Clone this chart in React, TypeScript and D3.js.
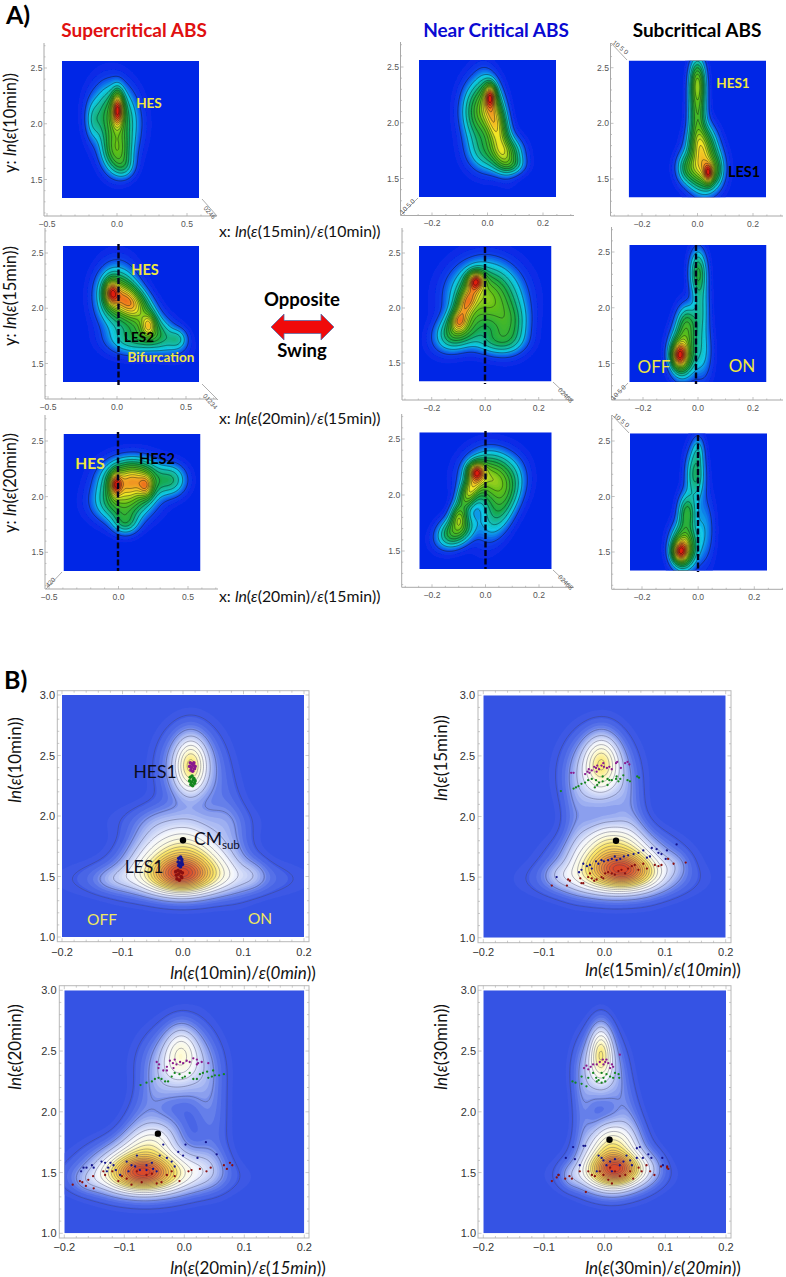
import React, { useMemo } from "react";
import * as d3 from "d3";

// ---------- density components: [x, y, sx, sy, rho, weight]
type Blob = number[];
const superRow1: Blob[] = [[0.005,2.13,0.028,0.1,0,0.66],[-0.015,2.05,0.095,0.18,-0.1,0.4],[0.0,1.75,0.065,0.12,0,0.36],[-0.17,2.03,0.035,0.11,0,0.1],[0.05,1.62,0.05,0.07,0,0.12]];
const superRow2: Blob[] = [[-0.04,2.14,0.035,0.075,0,0.55],[0.23,1.85,0.035,0.07,0,0.36],[0.1,2.05,0.09,0.11,-0.4,0.62],[0.0,2.1,0.09,0.17,0,0.4],[0.25,1.8,0.12,0.12,-0.5,0.3],[0.44,1.72,0.045,0.06,0,0.14],[0.12,1.72,0.12,0.09,0,0.22]];
const superRow3: Blob[] = [[-0.02,2.11,0.03,0.07,0,0.48],[0.2,2.09,0.035,0.07,0,0.3],[0.1,2.15,0.12,0.11,0,0.68],[0.03,1.95,0.12,0.11,0,0.36],[0.38,2.15,0.07,0.09,0,0.2],[0.05,1.77,0.06,0.07,0,0.2]];
const nearRow1: Blob[] = [[0.01,2.24,0.014,0.07,0,0.44],[0.03,2.0,0.03,0.2,-0.5,0.46],[-0.025,2.1,0.04,0.17,0,0.34],[0.07,1.72,0.035,0.09,0,0.26],[0.0,1.75,0.045,0.12,0,0.18],[0.085,1.62,0.032,0.055,0,0.11]];
const nearRow2: Blob[] = [[-0.035,2.25,0.021,0.055,0,0.52],[-0.07,2.05,0.03,0.13,0.6,0.46],[-0.1,1.88,0.02,0.06,0,0.24],[0.0,2.1,0.075,0.18,0,0.48],[-0.1,1.8,0.05,0.11,0.3,0.36],[0.085,1.85,0.045,0.14,0,0.25],[0.04,1.7,0.06,0.08,0,0.16]];
const nearRow3: Blob[] = [[-0.035,2.21,0.021,0.055,0,0.52],[-0.06,2.03,0.03,0.12,0.6,0.44],[-0.1,1.8,0.02,0.07,0,0.28],[0.02,2.15,0.058,0.14,0,0.48],[-0.11,1.68,0.042,0.09,0.3,0.38],[0.055,1.9,0.045,0.18,0.5,0.24]];
const subRow1: Blob[] = [[0.04,1.55,0.012,0.06,0,0.42],[0.025,1.6,0.036,0.13,0,0.55],[0.015,1.82,0.03,0.11,0,0.36],[0.0,2.38,0.018,0.13,0,0.34],[0.0,2.1,0.02,0.2,0,0.34],[-0.035,1.6,0.026,0.09,0,0.2],[0.07,1.58,0.015,0.08,0,0.08]];
const subRow2: Blob[] = [[-0.07,1.57,0.019,0.075,0,0.52],[-0.055,1.6,0.028,0.13,0,0.54],[-0.04,1.85,0.024,0.11,0,0.3],[0.0,2.32,0.02,0.13,0,0.28],[0.01,2.0,0.02,0.18,0,0.16],[0.015,1.6,0.024,0.17,0,0.12]];
const subRow3: Blob[] = [[-0.065,1.5,0.019,0.065,0,0.52],[-0.05,1.55,0.028,0.12,0,0.54],[-0.04,1.85,0.02,0.11,0,0.3],[-0.01,2.2,0.022,0.15,0,0.24],[0.0,2.42,0.015,0.09,0,0.09],[0.02,1.7,0.024,0.2,0,0.1]];
const pcaT10: Blob[] = [[-0.003,1.52,0.03,0.09,0,0.5],[0,1.56,0.05,0.13,0,0.42],[0,1.48,0.09,0.09,0,0.15],[-0.115,1.48,0.022,0.065,0.1,0.04],[0.115,1.52,0.016,0.08,0,0.045],[0,1.74,0.04,0.13,0,0.26],[0,1.95,0.06,0.1,0,0.07],[0.013,2.42,0.016,0.14,0,0.3],[0.012,2.4,0.03,0.2,0,0.17],[-0.065,1.75,0.028,0.2,0.55,0.045],[0.075,1.9,0.022,0.3,-0.3,0.05]];
const pcaT15: Blob[] = [[0.03,1.56,0.03,0.08,-0.1,0.48],[0.02,1.6,0.05,0.14,0,0.42],[0.01,1.48,0.065,0.09,0,0.15],[0.115,1.6,0.016,0.07,0,0.04],[-0.075,1.52,0.016,0.065,0,0.04],[0.01,1.78,0.032,0.13,0,0.22],[-0.005,2.45,0.018,0.14,0,0.27],[-0.01,2.35,0.033,0.2,0,0.17],[-0.045,2.0,0.016,0.3,0.1,0.04],[0.04,2.05,0.02,0.3,-0.5,0.05]];
const pcaT20: Blob[] = [[-0.07,1.5,0.03,0.08,0,0.48],[-0.065,1.53,0.05,0.13,0,0.42],[-0.06,1.46,0.07,0.09,0,0.15],[-0.16,1.43,0.016,0.06,0,0.04],[0.035,1.55,0.022,0.11,0,0.07],[-0.055,1.75,0.03,0.13,0.3,0.22],[-0.005,2.5,0.018,0.14,0,0.18],[-0.01,2.38,0.035,0.18,0,0.17],[-0.06,2.05,0.03,0.25,0.7,0.05],[0.04,2.1,0.02,0.33,-0.3,0.06]];
const pcaT30: Blob[] = [[0.02,1.53,0.024,0.075,0,0.48],[0.012,1.56,0.03,0.13,0,0.42],[0.01,1.48,0.045,0.09,0,0.15],[-0.055,1.47,0.012,0.07,0,0.045],[0.075,1.55,0.016,0.09,0,0.05],[0.012,1.76,0.024,0.12,0,0.24],[-0.006,2.5,0.012,0.14,0,0.3],[-0.008,2.35,0.022,0.17,0,0.17],[-0.035,2.05,0.012,0.28,0,0.05],[0.035,2.0,0.02,0.28,-0.6,0.06]];

// ---------- trajectory end points per panel, [x, y]
const t10Purple = [[0.012,2.44],[0.015,2.43],[0.018,2.44],[0.011,2.41],[0.014,2.40],[0.017,2.42],[0.02,2.41],[0.013,2.38],[0.016,2.37],[0.019,2.39]];
const t10Green = [[0.012,2.32],[0.015,2.33],[0.018,2.31],[0.011,2.29],[0.014,2.28],[0.017,2.3],[0.02,2.29],[0.013,2.26],[0.016,2.25],[0.019,2.27]];
const t10Blue = [[-0.007,1.65],[-0.004,1.66],[-0.002,1.64],[-0.008,1.62],[-0.005,1.61],[-0.002,1.62],[-0.007,1.59],[-0.004,1.58],[-0.001,1.6]];
const t10Red = [[-0.012,1.54],[-0.008,1.55],[-0.004,1.54],[-0.001,1.53],[-0.011,1.51],[-0.007,1.52],[-0.003,1.5],[-0.01,1.48],[-0.006,1.47],[-0.002,1.49]];

const t15Purple = [[-0.055,2.36],[-0.051,2.36],[-0.032,2.35],[-0.028,2.37],[-0.026,2.39],[-0.021,2.38],[-0.017,2.41],[-0.014,2.4],[-0.012,2.42],[-0.009,2.39],[-0.005,2.42],[-0.002,2.44],[-0.001,2.41],[0.004,2.4],[0.008,2.41],[0.012,2.39],[0.019,2.44],[0.021,2.45],[0.027,2.4],[0.034,2.44],[0.038,2.45],[0.041,2.43],[-0.025,2.36],[-0.013,2.37]];
const t15Green = [[-0.072,2.21],[-0.051,2.23],[-0.047,2.24],[-0.043,2.25],[-0.038,2.27],[-0.032,2.28],[-0.027,2.3],[-0.021,2.31],[-0.014,2.3],[-0.012,2.26],[-0.016,2.24],[-0.009,2.28],[-0.003,2.29],[0.005,2.31],[0.008,2.3],[0.005,2.26],[0.012,2.3],[0.019,2.31],[0.023,2.29],[0.026,2.31],[0.031,2.34],[0.038,2.3],[0.042,2.29],[0.054,2.33],[0.057,2.32],[0.02,2.33],[-0.003,2.33]];
const t15Blue = [[-0.079,1.5],[-0.042,1.54],[-0.038,1.56],[-0.035,1.61],[-0.029,1.59],[-0.024,1.6],[-0.021,1.57],[-0.014,1.63],[-0.01,1.61],[-0.005,1.64],[-0.001,1.63],[0.006,1.64],[0.012,1.65],[0.017,1.67],[0.02,1.64],[0.026,1.65],[0.032,1.67],[0.039,1.68],[0.048,1.69],[0.056,1.7],[0.064,1.72],[0.07,1.66],[0.075,1.67],[0.078,1.74],[0.086,1.73],[0.089,1.7],[0.094,1.69],[0.103,1.72],[0.101,1.65],[0.119,1.77]];
const t15Red = [[-0.087,1.43],[-0.062,1.43],[-0.06,1.48],[-0.057,1.47],[-0.04,1.49],[-0.038,1.45],[-0.035,1.45],[-0.027,1.5],[-0.021,1.49],[-0.017,1.47],[-0.013,1.48],[-0.005,1.5],[0.001,1.53],[0.006,1.54],[0.012,1.53],[0.017,1.52],[0.023,1.55],[0.028,1.56],[0.034,1.53],[0.039,1.57],[0.045,1.59],[0.05,1.6],[0.056,1.56],[0.064,1.61],[0.07,1.57],[0.083,1.6],[0.089,1.59],[0.094,1.6],[0.105,1.65],[0.114,1.61],[0.134,1.62],[-0.002,1.49],[-0.024,1.53]];

const t20Purple = [[-0.046,2.41],[-0.042,2.39],[-0.043,2.36],[-0.035,2.34],[-0.029,2.37],[-0.024,2.42],[-0.019,2.4],[-0.016,2.43],[-0.013,2.39],[-0.007,2.41],[-0.002,2.4],[0.004,2.42],[0.009,2.41],[0.015,2.44],[0.021,2.43],[0.023,2.4],[0.029,2.41],[0.021,2.39],[0.04,2.4],[-0.029,2.34],[-0.018,2.36]];
const t20Green = [[-0.073,2.22],[-0.063,2.24],[-0.054,2.25],[-0.049,2.27],[-0.043,2.28],[-0.038,2.27],[-0.032,2.25],[-0.027,2.25],[-0.021,2.29],[-0.016,2.32],[-0.008,2.31],[-0.003,2.28],[0.001,2.29],[0.009,2.32],[0.015,2.27],[0.021,2.27],[0.026,2.31],[0.031,2.32],[0.038,2.33],[0.04,2.28],[0.046,2.29],[0.051,2.3],[0.058,2.3],[0.066,2.31],[0.048,2.34]];
const t20Blue = [[-0.172,1.51],[-0.168,1.54],[-0.163,1.54],[-0.154,1.56],[-0.151,1.54],[-0.138,1.59],[-0.132,1.58],[-0.127,1.54],[-0.123,1.58],[-0.118,1.56],[-0.114,1.52],[-0.129,1.51],[-0.096,1.59],[-0.088,1.56],[-0.079,1.64],[-0.074,1.52],[-0.063,1.56],[-0.054,1.58],[-0.046,1.51],[-0.041,1.64],[-0.035,1.73],[-0.029,1.62],[-0.021,1.59],[-0.016,1.55],[-0.01,1.67],[-0.002,1.64],[0.002,1.73],[0.022,1.62],[0.036,1.75],[0.054,1.65],[-0.107,1.48],[-0.093,1.51],[-0.082,1.55],[-0.063,1.52],[-0.052,1.53]];
const t20Red = [[-0.186,1.4],[-0.174,1.43],[-0.17,1.42],[-0.164,1.39],[-0.16,1.44],[-0.151,1.37],[-0.152,1.47],[-0.135,1.51],[-0.132,1.48],[-0.12,1.51],[-0.104,1.47],[-0.11,1.43],[-0.096,1.45],[-0.088,1.4],[-0.079,1.51],[-0.071,1.42],[-0.063,1.48],[-0.054,1.49],[-0.046,1.41],[-0.038,1.42],[-0.029,1.48],[-0.021,1.51],[-0.008,1.43],[-0.016,1.47],[0.007,1.51],[0.012,1.52],[0.026,1.53],[0.037,1.51],[0.044,1.54],[0.066,1.56],[0.071,1.53],[0.076,1.58],[0.08,1.56]];

const t30Purple = [[-0.034,2.36],[-0.03,2.38],[-0.023,2.37],[-0.019,2.39],[-0.013,2.39],[-0.008,2.41],[-0.003,2.43],[0.001,2.41],[0.003,2.43],[-0.002,2.39],[0.006,2.4],[0.012,2.39],[0.014,2.37],[0.009,2.36],[0.025,2.47],[-0.027,2.35]];
const t30Green = [[-0.053,2.25],[-0.048,2.24],[-0.038,2.29],[-0.038,2.23],[-0.03,2.21],[-0.027,2.28],[-0.019,2.32],[-0.014,2.28],[-0.01,2.26],[-0.005,2.24],[-0.002,2.28],[0.001,2.25],[0.003,2.31],[0.009,2.29],[0.014,2.28],[0.017,2.32],[0.023,2.31],[0.024,2.28],[-0.005,2.32],[-0.013,2.25]];
const t30Blue = [[-0.052,1.71],[-0.035,1.72],[-0.032,1.72],[-0.064,1.62],[-0.076,1.48],[-0.041,1.56],[-0.049,1.61],[-0.01,1.64],[-0.005,1.62],[-0.002,1.6],[0.003,1.56],[0.012,1.51],[0.017,1.61],[0.025,1.56],[0.031,1.59],[0.036,1.64],[0.042,1.6],[0.045,1.56],[0.053,1.62],[0.058,1.71],[0.063,1.62],[0.072,1.65],[0.077,1.62],[0.095,1.62],[0.096,1.56],[0.053,1.7],[-0.013,1.51],[0.009,1.59]];
const t30Red = [[-0.087,1.43],[-0.079,1.46],[-0.076,1.48],[-0.065,1.45],[-0.058,1.47],[-0.054,1.45],[-0.041,1.51],[-0.031,1.34],[-0.027,1.51],[-0.021,1.48],[-0.016,1.47],[-0.008,1.51],[-0.002,1.48],[0.006,1.44],[0.012,1.41],[0.017,1.51],[0.025,1.47],[0.034,1.48],[0.042,1.51],[0.047,1.45],[0.056,1.54],[0.061,1.51],[0.069,1.56],[0.075,1.51],[0.082,1.48],[0.093,1.55],[0.103,1.55],[0.105,1.53],[0.103,1.54],[0.009,1.54]];

const centreOfMass = [[0,1.8],[0.019,1.8],[-0.044,1.82],[0.008,1.77]];

// ---------- colours
const rainbowStops = [0,0.04,0.12,0.27,0.46,0.62,0.78,0.94];
const rainbowColors = ["#0626e6","#0a40ea","#12c8e6","#14a84a","#60c018","#f4e828","#f08420","#e01c10"];
const paleStops = [0,0.04,0.1,0.2,0.3,0.42,0.6,0.78,0.95];
const paleColors = ["#3553e4","#5873e8","#a8b8f2","#f4f6fd","#fefcde","#fbe76a","#f4b845","#e67a3a","#d8482c"];
const pointColors = ["#8a1a8e","#14861e","#14148c","#8a1010"];

// ---------- scaffolding of the panels
const pxA = (img: number[], x: number[], y: number[], axis: number[], blobs: Blob[]) => ({ img, x, y, axis, blobs });
const panelsA = [
  pxA([62,61,199,198],[-0.5,47,0.5,187],[1.5,179.5,2.5,68],[44,216,217,43],superRow1),
  pxA([63,246,199,382],[-0.5,48,0.5,186],[1.5,363.5,2.5,253],[45,399,217,228],superRow2),
  pxA([63.5,434,200.5,571],[-0.5,49,0.5,188],[1.5,552.3,2.5,441],[45,589,218,415],superRow3),
  pxA([419,60,556,197],[-0.2,432,0.2,543],[1.5,178.5,2.5,67],[400.5,215.5,574,42],nearRow1),
  pxA([419,246,551.5,381.5],[-0.2,431.7,0.2,538.7],[1.5,363,2.5,253],[402,400,574,228],nearRow2),
  pxA([419.3,432.3,551.7,569],[-0.2,432,0.2,539],[1.5,551,2.5,439],[401.7,587.3,574,414],nearRow3),
  pxA([628.7,60.5,766,197.5],[-0.2,642,0.2,753],[1.5,179,2.5,67.7],[610.5,216,783,43],subRow1),
  pxA([629.3,245,766.5,382],[-0.2,643,0.2,753],[1.5,363.5,2.5,252],[611.5,400,783,227],subRow2),
  pxA([630,433.3,767,570.7],[-0.2,642,0.2,754.3],[1.5,552,2.5,441],[611.7,589.3,783,415],subRow3),
];
const panelsB = [
  { img:[62,695,304,937], frame:[57.3,690.7,309,941.7], tickRight:55, labelY:952, blobs:pcaT10, pts:[t10Purple,t10Green,t10Blue,t10Red], r:1.8, cm:centreOfMass[0] },
  { img:[483.3,695.3,725.7,937.7], frame:[478,690.7,731,942.7], tickRight:475, labelY:952, blobs:pcaT15, pts:[t15Purple,t15Green,t15Blue,t15Red], r:1.15, cm:centreOfMass[1] },
  { img:[64.3,990.3,304.3,1233.3], frame:[59.3,985.7,309,1238], tickRight:56.5, labelY:1247, blobs:pcaT20, pts:[t20Purple,t20Green,t20Blue,t20Red], r:1.15, cm:centreOfMass[2] },
  { img:[483.3,990.3,726,1233.3], frame:[478,985.7,731,1238], tickRight:476, labelY:1247, blobs:pcaT30, pts:[t30Purple,t30Green,t30Blue,t30Red], r:1.15, cm:centreOfMass[3] },
];

const dashes = [[118.5,244,385],[118,432,571],[485,247,384],[485.5,431,569],[696,245,384],[698,435,572]];
const SANS = "'Liberation Sans', Arial, sans-serif";
const CAL = "Lato, 'Open Sans', sans-serif";
const neg = (v: number) => (v < 0 ? "\u2212" : "") + Math.abs(v).toFixed(1);

function field(blobs: Blob[], xd: number[], yd: number[], n: number) {
  const vals = new Float64Array(n * n);
  let mx = 0;
  for (let j = 0; j < n; j++) {
    const y = yd[0] + ((j + 0.5) / n) * (yd[1] - yd[0]);
    for (let i = 0; i < n; i++) {
      const x = xd[0] + ((i + 0.5) / n) * (xd[1] - xd[0]);
      let s = 0;
      for (const [cx, cy, sx, sy, rho, w] of blobs) {
        const a = (x - cx) / sx, b = (y - cy) / sy;
        s += w * Math.exp(-(a * a - 2 * rho * a * b + b * b) / (2 * (1 - rho * rho)));
      }
      vals[j * n + i] = s;
      if (s > mx) mx = s;
    }
  }
  for (let k = 0; k < vals.length; k++) vals[k] /= mx;
  return vals;
}

function Density({ img, xs, ys, blobs, color, line, lineW, first, step, id }: any) {
  const n = 120;
  const { bands, lines } = useMemo(() => {
    const [x0, y0, x1, y1] = img;
    const vals = field(blobs, [xs.invert(x0), xs.invert(x1)], [ys.invert(y0), ys.invert(y1)], n);
    const levels = d3.range(0.008, 1.0, 0.014);
    const gen = d3.contours().size([n, n]);
    const proj = d3.geoTransform({ point(this: any, a: number, b: number) {
      this.stream.point(x0 + (a / n) * (x1 - x0), y0 + (b / n) * (y1 - y0));
    }});
    const path = d3.geoPath(proj);
    const bands = levels.map((t) => ({ t, d: path(gen.contour(vals as any, t) as any) || "" }));
    const lv = d3.range(first, 0.97, step);
    const lines = lv.map((t) => path(gen.contour(vals as any, t) as any) || "");
    return { bands, lines };
  }, []);
  return (
    <g clipPath={`url(#${id})`}>
      <clipPath id={id}><rect x={img[0]} y={img[1]} width={img[2]-img[0]} height={img[3]-img[1]} /></clipPath>
      <g filter="url(#soft)">
        <rect x={img[0]} y={img[1]} width={img[2]-img[0]} height={img[3]-img[1]} fill={color(0)} />
        {bands.map((b, i) => <path key={i} d={b.d} fill={color(b.t)} />)}
        {lines.map((d, i) => <path key={i} d={d} fill="none" stroke={line} strokeWidth={lineW} />)}
      </g>
    </g>
  );
}

const Eps = () => <tspan fontStyle="italic">ε</tspan>;

function PanelA({ p, idx }: any) {
  const xs = d3.scaleLinear().domain([p.x[0], p.x[2]]).range([p.x[1], p.x[3]]);
  const ys = d3.scaleLinear().domain([p.y[0], p.y[2]]).range([p.y[1], p.y[3]]);
  const color = d3.scaleLinear<string>().domain(rainbowStops).range(rainbowColors).clamp(true);
  const [ax, ay, ax2, ay2] = p.axis;
  const major = Math.abs(p.x[0]) === 0.5 ? 0.5 : 0.2;
  const minor = major === 0.5 ? 0.1 : 0.05;
  const xMin = xs.invert(ax), xMax = xs.invert(ax2);
  const yMin = ys.invert(ay), yMax = ys.invert(ay2);
  const xTicks = d3.range(Math.ceil(xMin / minor - 1e-6), Math.floor(xMax / minor + 1e-6) + 1).map((k) => k * minor);
  const yTicks = d3.range(Math.ceil(yMin / 0.1 - 1e-6), Math.floor(yMax / 0.1 + 1e-6) + 1).map((k) => k * 0.1);
  const isMaj = (v: number, m: number) => Math.abs(v / m - Math.round(v / m)) < 1e-6;
  return (
    <g>
      <line x1={ax} x2={ax2} y1={ay} y2={ay} stroke="#a8a8a8" />
      <line x1={ax} x2={ax} y1={ay} y2={ay2} stroke="#a8a8a8" />
      {xTicks.map((v, i) => <line key={i} x1={xs(v)} x2={xs(v)} y1={ay} y2={ay - (isMaj(v, major) ? 3 : 1.5)} stroke="#aaa" strokeWidth={0.7} />)}
      {yTicks.map((v, i) => <line key={i} x1={ax} x2={ax + (isMaj(v, 0.5) ? 3 : 1.5)} y1={ys(v)} y2={ys(v)} stroke="#aaa" strokeWidth={0.7} />)}
      {xTicks.filter((v) => isMaj(v, major)).map((v, i) => (
        <text key={i} x={xs(v)} y={ay + 10.5} fontSize={8.6} textAnchor="middle" fill="#555" fontFamily={SANS}>{neg(v)}</text>
      ))}
      {yTicks.filter((v) => isMaj(v, 0.5)).map((v, i) => (
        <text key={i} x={ax - 1.5} y={ys(v) + 3} fontSize={8.6} textAnchor="end" fill="#555" fontFamily={SANS}>{v.toFixed(1)}</text>
      ))}
      <Density img={p.img} xs={xs} ys={ys} blobs={p.blobs} color={color} line="rgba(10,20,20,0.8)" lineW={0.55} first={0.05} step={0.06} id={`ca${idx}`} />
    </g>
  );
}

function PanelB({ p, idx }: any) {
  const xs = d3.scaleLinear().domain([-0.2, 0.2]).range([p.img[0], p.img[2]]);
  const ys = d3.scaleLinear().domain([1, 3]).range([p.img[3], p.img[1]]);
  const color = d3.scaleLinear<string>().domain(paleStops).range(paleColors).clamp(true);
  const [fx0, fy0, fx1, fy1] = p.frame;
  const xTicks = d3.range(-20, 21, 2).map((k) => k / 100);
  const yTicks = d3.range(10, 31).map((k) => k / 10);
  return (
    <g>
      <rect x={fx0} y={fy0} width={fx1 - fx0} height={fy1 - fy0} fill="#fff" stroke="#b8b8b8" />
      {xTicks.map((v, i) => {
        const m = i % 5 === 0;
        return <g key={i} stroke="#aaa" strokeWidth={0.6}>
          <line x1={xs(v)} x2={xs(v)} y1={fy1} y2={fy1 - (m ? 3.5 : 2)} />
          <line x1={xs(v)} x2={xs(v)} y1={fy0} y2={fy0 + (m ? 3.5 : 2)} />
        </g>;
      })}
      {yTicks.map((v, i) => {
        const m = i % 5 === 0;
        return <g key={i} stroke="#aaa" strokeWidth={0.6}>
          <line x1={fx0} x2={fx0 + (m ? 3.5 : 2)} y1={ys(v)} y2={ys(v)} />
          <line x1={fx1} x2={fx1 - (m ? 3.5 : 2)} y1={ys(v)} y2={ys(v)} />
        </g>;
      })}
      <Density img={p.img} xs={xs} ys={ys} blobs={p.blobs} color={color} line="rgba(60,65,95,0.5)" lineW={0.75} first={0.018} step={0.055} id={`cb${idx}`} />
      {[-0.2,-0.1,0,0.1,0.2].map((v) => <text key={v} x={xs(v)} y={p.labelY + 4} fontSize={11} textAnchor="middle" fill="#333" fontFamily={SANS}>{neg(v)}</text>)}
      {[1,1.5,2,2.5,3].map((v) => <text key={v} x={p.tickRight} y={ys(v) + 4} fontSize={11} textAnchor="end" fill="#333" fontFamily={SANS}>{v.toFixed(1)}</text>)}
      {p.pts.map((set: number[][], k: number) => (
        <g key={k} fill={pointColors[k]}>
          {set.map((q, i) => <circle key={i} cx={xs(q[0])} cy={ys(q[1])} r={p.r} />)}
        </g>
      ))}
      <circle cx={xs(p.cm[0])} cy={ys(p.cm[1])} r={3.2} fill="#000" />
    </g>
  );
}

const T = ({ x, y, s, c, w, a, children, f }: any) => (
  <text x={x} y={y} fontSize={s} fill={c || "#000"} fontWeight={w || 400} textAnchor={a || "middle"} fontFamily={f || CAL}>{children}</text>
);
const Diag = ({ x1, y1, x2, y2, tx, ty, rot, label }: any) => (
  <g>
    <line x1={x1} y1={y1} x2={x2} y2={y2} stroke="#999" strokeWidth={0.8} />
    <text transform={`translate(${tx},${ty}) rotate(${rot})`} fontSize={6.5} fill="#555" textAnchor="middle" fontFamily={SANS}>{label}</text>
  </g>
);
const YA = ({ t, cy }: any) => (
  <text transform={`translate(15.5,${cy}) rotate(-90)`} fontSize={16.5} textAnchor="middle" fontFamily={CAL} fill="#111">
    y: <tspan fontStyle="italic">ln</tspan>(<Eps />({t}))
  </text>
);
const XA = ({ a, b, y }: any) => (
  <text x={219} y={y} fontSize={15.8} fontFamily={CAL} fill="#111">
    x: <tspan fontStyle="italic">ln</tspan>(<Eps />({a})/<Eps />({b}))
  </text>
);
const XB = ({ a, b, cx, y }: any) => (
  <text x={cx} y={y} fontSize={17} textAnchor="middle" fontFamily={CAL} fill="#111">
    <tspan fontStyle="italic">ln</tspan>(<Eps />({a})/<Eps />(<tspan fontStyle="italic">{b}</tspan>))
  </text>
);
const YB = ({ t, x, cy }: any) => (
  <text transform={`translate(${x},${cy}) rotate(-90)`} fontSize={17} textAnchor="middle" fontFamily={CAL} fill="#111">
    <tspan fontStyle="italic">ln</tspan>(<Eps />({t}))
  </text>
);

export default function App() {
  return (
    <svg width={786} height={1277} viewBox="0 0 786 1277" style={{ position: "absolute", left: 0, top: 0, background: "#fff" }}>
      <defs>
        <filter id="soft" x="-5%" y="-5%" width="110%" height="110%"><feGaussianBlur stdDeviation={0.45} /></filter>
      </defs>
      {panelsA.map((p, i) => <PanelA key={i} p={p} idx={i} />)}
      {panelsB.map((p, i) => <PanelB key={i} p={p} idx={i} />)}
      {dashes.map((d, i) => <line key={i} x1={d[0]} x2={d[0]} y1={d[1]} y2={d[2]} stroke="#02021e" strokeWidth={2.4} strokeDasharray="6 2.5" />)}

      <Diag x1={202} y1={199} x2={217} y2={216} tx={208} ty={214} rot={48} label="0246" />
      <Diag x1={202} y1={384} x2={218} y2={400} tx={208.5} ty={403} rot={48} label="01234" />
      <Diag x1={46} y1={589} x2={62} y2={572} tx={52} ty={584} rot={-45} label="420" />
      <Diag x1={401} y1={215} x2={418} y2={198} tx={409} ty={208} rot={-45} label="10 5 0" />
      <Diag x1={553} y1={382} x2={572} y2={400} tx={564} ty={397} rot={45} label="02468" />
      <Diag x1={553} y1={570} x2={572} y2={588} tx={564} ty={584} rot={45} label="02468" />
      <Diag x1={611} y1={43} x2={627} y2={60} tx={619} ty={49} rot={40} label="10 5 0" />
      <Diag x1={612} y1={400} x2={628} y2={383} tx={620} ty={394} rot={-45} label="10 5 0" />
      <Diag x1={612} y1={415} x2={629} y2={433} tx={620} ty={422} rot={40} label="10 5 0" />

      <T x={6} y={24} s={25} w={700} a="start">A)</T>
      <T x={4} y={689} s={25} w={700} a="start">B)</T>
      <T x={134} y={37} s={19} w={700} c="#e01010">Supercritical ABS</T>
      <T x={496} y={37} s={19} w={700} c="#0a0ad2">Near Critical ABS</T>
      <T x={697} y={37} s={19} w={700} c="#000">Subcritical ABS</T>

      <YA t="10min" cy={123} />
      <YA t="15min" cy={296} />
      <YA t="20min" cy={483} />
      <XA a="15min" b="10min" y={237} />
      <XA a="20min" b="15min" y={424} />
      <XA a="20min" b="15min" y={602} />

      <path d={d3.line()([[271,327],[284,314],[284,320.5],[321,320.5],[321,314],[334,327],[321,340],[321,333.5],[284,333.5],[284,340]])! + "Z"} fill="#f00a0a" stroke="#5a6ea8" strokeWidth={0.8} />
      <T x={302} y={306} s={18.5} w={700}>Opposite</T>
      <T x={302} y={357} s={18.5} w={700}>Swing</T>

      <T x={149} y={108} s={13.5} w={700} c="#f0e840">HES</T>
      <T x={145} y={275} s={14.5} w={700} c="#f0e840">HES</T>
      <T x={139} y={342} s={13.5} w={700}>LES2</T>
      <T x={161} y={362} s={13.5} w={700} c="#f0e840">Bifurcation</T>
      <T x={90} y={469} s={15.5} w={700} c="#f0e840">HES</T>
      <T x={157} y={464} s={14.5} w={700}>HES2</T>
      <T x={733} y={88} s={13.5} w={700} c="#f0e840">HES1</T>
      <T x={744} y={177} s={14.5} w={700}>LES1</T>
      <T x={654} y={373} s={17} c="#f0e840">OFF</T>
      <T x={742} y={372} s={17} c="#f0e840">ON</T>

      <T x={155} y={778} s={17.5} c="#0c0c1e">HES1</T>
      <T x={144} y={873} s={17.5} c="#0c0c1e">LES1</T>
      <text x={194} y={845} fontSize={17.5} fontFamily={CAL} fill="#0c0c1e">CM<tspan fontSize={11.5} dy={4}>sub</tspan></text>
      <T x={102} y={925} s={15.5} c="#f0e860">OFF</T>
      <T x={260} y={924} s={15.5} c="#f0e860">ON</T>

      <XB a="10min" b="0min" cx={243} y={979} />
      <XB a="15min" b="10min" cx={663} y={976} />
      <XB a="20min" b="15min" cx={248} y={1274} />
      <XB a="30min" b="20min" cx={663} y={1274} />
      <YB t="10min" x={21} cy={760} />
      <YB t="15min" x={447} cy={758} />
      <YB t="20min" x={21} cy={1047} />
      <YB t="30min" x={447} cy={1047} />
    </svg>
  );
}
